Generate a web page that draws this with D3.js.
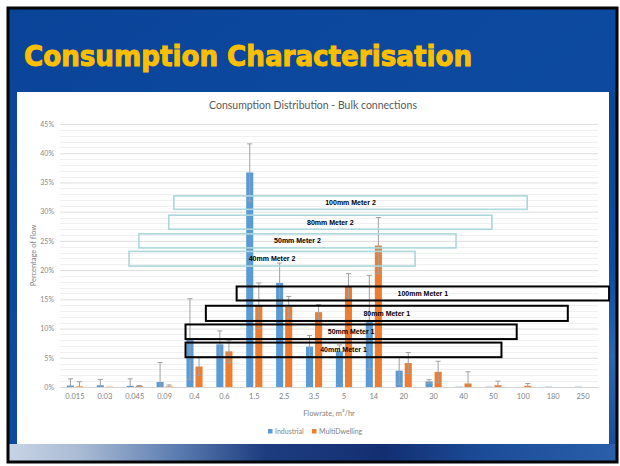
<!DOCTYPE html>
<html><head><meta charset="utf-8">
<script src="https://cdn.jsdelivr.net/npm/d3@7"></script>
<style>html,body{margin:0;padding:0;background:#fff;}svg{display:block;}</style>
</head><body>
<script>
// ---- data ----
const categories = ["0.015","0.03","0.045","0.09","0.4","0.6","1.5","2.5","3.5","5","14","20","30","40","50","100","180","250"];
const seriesNames = ["Industrial","MultiDwelling"];
const industrial    = [0.25,0.3,0.2,0.85,8.2,7.3,36.7,17.8,6.9,6.1,11.1,2.8,0.95,0.05,0.05,0,0.05,0.05];
const industrialErr = [1.15,1.0,1.2,3.35,6.9,2.3,4.9,3.4,1.9,1.1,8.0,2.3,0.3,0,0,0,0,0];
const multi         = [0.1,0.05,0.15,0.1,3.5,6.1,13.9,13.7,12.8,17.2,24.2,4.1,2.6,0.6,0.3,0.2,0,0];
const multiErr      = [0.8,0,0.1,0.25,1.5,1.9,3.9,1.8,1.3,2.2,4.8,1.8,1.8,2.0,0.7,0.4,0,0];
const yTicks = [0,5,10,15,20,25,30,35,40,45];
// meter range annotations (x in category-index units, y in % of flow)
const meterLabels = ["100mm Meter 2","80mm Meter 2","50mm Meter 2","40mm Meter 2","100mm Meter 1","80mm Meter 1","50mm Meter 1","40mm Meter 1"];
const meterFrom   = [3.31,3.14,2.14,1.81,5.41,4.38,3.70,3.70];
const meterTo     = [15.13,13.95,12.75,11.38,17.87,16.49,14.78,14.27];
const meterTop    = [32.7,29.4,26.2,23.2,17.2,13.9,10.7,7.6];
const meterBottom = [30.4,27.0,23.8,20.7,14.8,11.3,8.2,5.1];

const W = 620, H = 466;
const svg = d3.select("body").append("svg").attr("width", W).attr("height", H);
const defs = svg.append("defs");

// slide background
const bg = defs.append("linearGradient").attr("id","bg").attr("x1",0).attr("y1",0).attr("x2",1).attr("y2",1);
bg.append("stop").attr("offset","0%").attr("stop-color","#0a4499");
bg.append("stop").attr("offset","50%").attr("stop-color","#0c4aa0");
bg.append("stop").attr("offset","100%").attr("stop-color","#0b4699");
const bandG = defs.append("linearGradient").attr("id","band").attr("x1",0).attr("y1",0).attr("x2",1).attr("y2",0);
[["0%","#c8d4e5"],["12%","#a9bbd4"],["28%","#5a7bb0"],["42%","#1d3d80"],["62%","#132f72"],["78%","#1b4c98"],["100%","#2b5fa9"]]
  .forEach(s => bandG.append("stop").attr("offset",s[0]).attr("stop-color",s[1]));
const sideG = defs.append("linearGradient").attr("id","side").attr("x1",0).attr("y1",0).attr("x2",0).attr("y2",1);
[["0%","#0b4699"],["50%","#0d4ca2"],["75%","#2e66b0"],["100%","#1a4e9c"]]
  .forEach(s => sideG.append("stop").attr("offset",s[0]).attr("stop-color",s[1]));

svg.append("rect").attr("x",0).attr("y",0).attr("width",W).attr("height",H).attr("fill","#fff");
svg.append("rect").attr("x",8).attr("y",8).attr("width",609).attr("height",454).attr("fill","url(#bg)");
svg.append("rect").attr("x",8).attr("y",444).attr("width",609).attr("height",18).attr("fill","url(#band)");
svg.append("rect").attr("x",609).attr("y",92).attr("width",8).attr("height",352).attr("fill","url(#side)");
svg.append("rect").attr("x",8).attr("y",8).attr("width",609).attr("height",454)
  .attr("fill","none").attr("stroke","#050505").attr("stroke-width",3);

// slide title
svg.append("text").attr("x",24).attr("y",66)
  .attr("font-family","DejaVu Sans").attr("font-weight","bold").attr("font-size",27.5)
  .attr("textLength",448).attr("lengthAdjust","spacingAndGlyphs")
  .attr("fill","#fbbf00").attr("stroke","#fbbf00").attr("stroke-width",1)
  .text("Consumption Characterisation");

// chart panel
svg.append("rect").attr("x",17).attr("y",92).attr("width",592).attr("height",352).attr("fill","#ffffff");

const chartFont = "Lato, 'Liberation Sans', sans-serif";
svg.append("text").attr("x",313).attr("y",109).attr("text-anchor","middle")
  .attr("font-family",chartFont).attr("font-size",10.5).attr("fill","#595959")
  .text("Consumption Distribution - Bulk connections");

const pL = 60, pR = 598, pT = 124, pB = 387;
const x0 = d3.scaleBand().domain(categories).range([pL,pR]).paddingInner(0.46).paddingOuter(0.23);
const x1 = d3.scaleBand().domain(seriesNames).range([0,x0.bandwidth()]).paddingInner(0.22);
const y = d3.scaleLinear().domain([0,45]).range([pB,pT]);
const xIdx = d3.scaleLinear().domain([0,categories.length-1])
  .range([x0(categories[0]) + x0.bandwidth()/2, x0(categories[categories.length-1]) + x0.bandwidth()/2]);

// minor gridlines
const gGrid = svg.append("g");
gGrid.selectAll("line.minor").data(d3.range(1,46).filter(v => v%5 !== 0)).join("line")
  .attr("x1",pL).attr("x2",pR).attr("y1",d=>Math.round(y(d))+0.5).attr("y2",d=>Math.round(y(d))+0.5)
  .attr("stroke","#f0f0f0").attr("stroke-width",1);
// major gridlines via axis
const yAxis = d3.axisLeft(y).tickValues(yTicks).tickSize(-(pR-pL)).tickFormat(d => d + "%");
const ya = svg.append("g").attr("transform",`translate(${pL},0)`).call(yAxis);
ya.select(".domain").remove();
ya.selectAll(".tick line").attr("stroke","#dedede");
ya.selectAll(".tick text").attr("x",-6).attr("font-family",chartFont).attr("font-size",7).attr("fill","#8a8a8a");

// x axis
const xAxis = d3.axisBottom(x0).tickSize(0).tickPadding(7);
const xa = svg.append("g").attr("transform",`translate(0,${pB})`).call(xAxis);
xa.select(".domain").attr("stroke","#d4d4d4");
xa.selectAll(".tick text").attr("font-family",chartFont).attr("font-size",7.5).attr("fill","#7f7f7f");

// axis titles
svg.append("text").attr("transform",`translate(36,${(pT+pB)/2}) rotate(-90)`).attr("text-anchor","middle")
  .attr("font-family",chartFont).attr("font-size",7.5).attr("fill","#7f7f7f").text("Percentage of flow");
svg.append("text").attr("x",(pL+pR)/2).attr("y",416).attr("text-anchor","middle")
  .attr("font-family",chartFont).attr("font-size",7.5).attr("fill","#7f7f7f").text("Flowrate, m³/hr");

// bars
const colors = {Industrial:"#5b9bd5", MultiDwelling:"#ed7d31"};
const rows = categories.map((c,i) => ({cat:c, vals:[
  {s:"Industrial", v:industrial[i], e:industrialErr[i]},
  {s:"MultiDwelling", v:multi[i], e:multiErr[i]}]}));
defs.append("clipPath").attr("id","plotclip").append("rect")
  .attr("x",pL).attr("y",pT-20).attr("width",pR-pL).attr("height",pB-pT+20);
const bars = svg.append("g").attr("clip-path","url(#plotclip)");
const grp = bars.selectAll("g.cat").data(rows).join("g").attr("transform",d=>`translate(${x0(d.cat)},0)`);
grp.selectAll("rect").data(d=>d.vals).join("rect")
  .attr("x",d=>x1(d.s)).attr("width",x1.bandwidth())
  .attr("y",d=>y(d.v)).attr("height",d=>Math.max(0, y(0)-y(d.v)))
  .attr("fill",d=>colors[d.s]);
// error bars
const eb = grp.selectAll("g.err").data(d=>d.vals.filter(v=>v.e>0)).join("g").attr("class","err");
const ecx = d => x1(d.s) + x1.bandwidth()/2;
eb.append("line").attr("x1",ecx).attr("x2",ecx).attr("y1",d=>y(d.v+d.e)).attr("y2",d=>y(d.v-d.e))
  .attr("stroke","#a0a0a0").attr("stroke-width",1);
eb.append("line").attr("x1",d=>ecx(d)-2.5).attr("x2",d=>ecx(d)+2.5).attr("y1",d=>y(d.v+d.e)).attr("y2",d=>y(d.v+d.e))
  .attr("stroke","#a0a0a0").attr("stroke-width",1);
eb.filter(d=>d.v-d.e>=0).append("line").attr("x1",d=>ecx(d)-2.5).attr("x2",d=>ecx(d)+2.5)
  .attr("y1",d=>y(d.v-d.e)).attr("y2",d=>y(d.v-d.e)).attr("stroke","#a0a0a0").attr("stroke-width",1);

// legend
const leg = svg.append("g");
const legItems = [{s:"Industrial",x:268},{s:"MultiDwelling",x:312}];
legItems.forEach(it => {
  leg.append("rect").attr("x",it.x).attr("y",429).attr("width",4.5).attr("height",4.5).attr("fill",colors[it.s]);
  leg.append("text").attr("x",it.x+7).attr("y",434).attr("font-family",chartFont).attr("font-size",7)
    .attr("fill","#7f7f7f").text(it.s);
});

// meter annotation boxes
const meters = meterLabels.map((l,i)=>({l, a:meterFrom[i], b:meterTo[i], t:meterTop[i], bo:meterBottom[i], m2:/Meter 2/.test(l)}));
const mg = svg.append("g");
mg.selectAll("rect").data(meters).join("rect")
  .attr("x",d=>xIdx(d.a)).attr("width",d=>xIdx(d.b)-xIdx(d.a))
  .attr("y",d=>y(d.t)).attr("height",d=>y(d.bo)-y(d.t))
  .attr("fill","none").attr("stroke",d=>d.m2?"#acd7dc":"#000").attr("stroke-width",d=>d.m2?1.6:2);
mg.selectAll("text").data(meters).join("text")
  .attr("x",d=>(xIdx(d.a)+xIdx(d.b))/2).attr("y",d=>(y(d.t)+y(d.bo))/2+2.5)
  .attr("text-anchor","middle").attr("font-family","'Liberation Sans', Arial, sans-serif")
  .attr("font-weight","bold").attr("font-size",7).attr("fill","#000").text(d=>d.l);
</script>
</body></html>
